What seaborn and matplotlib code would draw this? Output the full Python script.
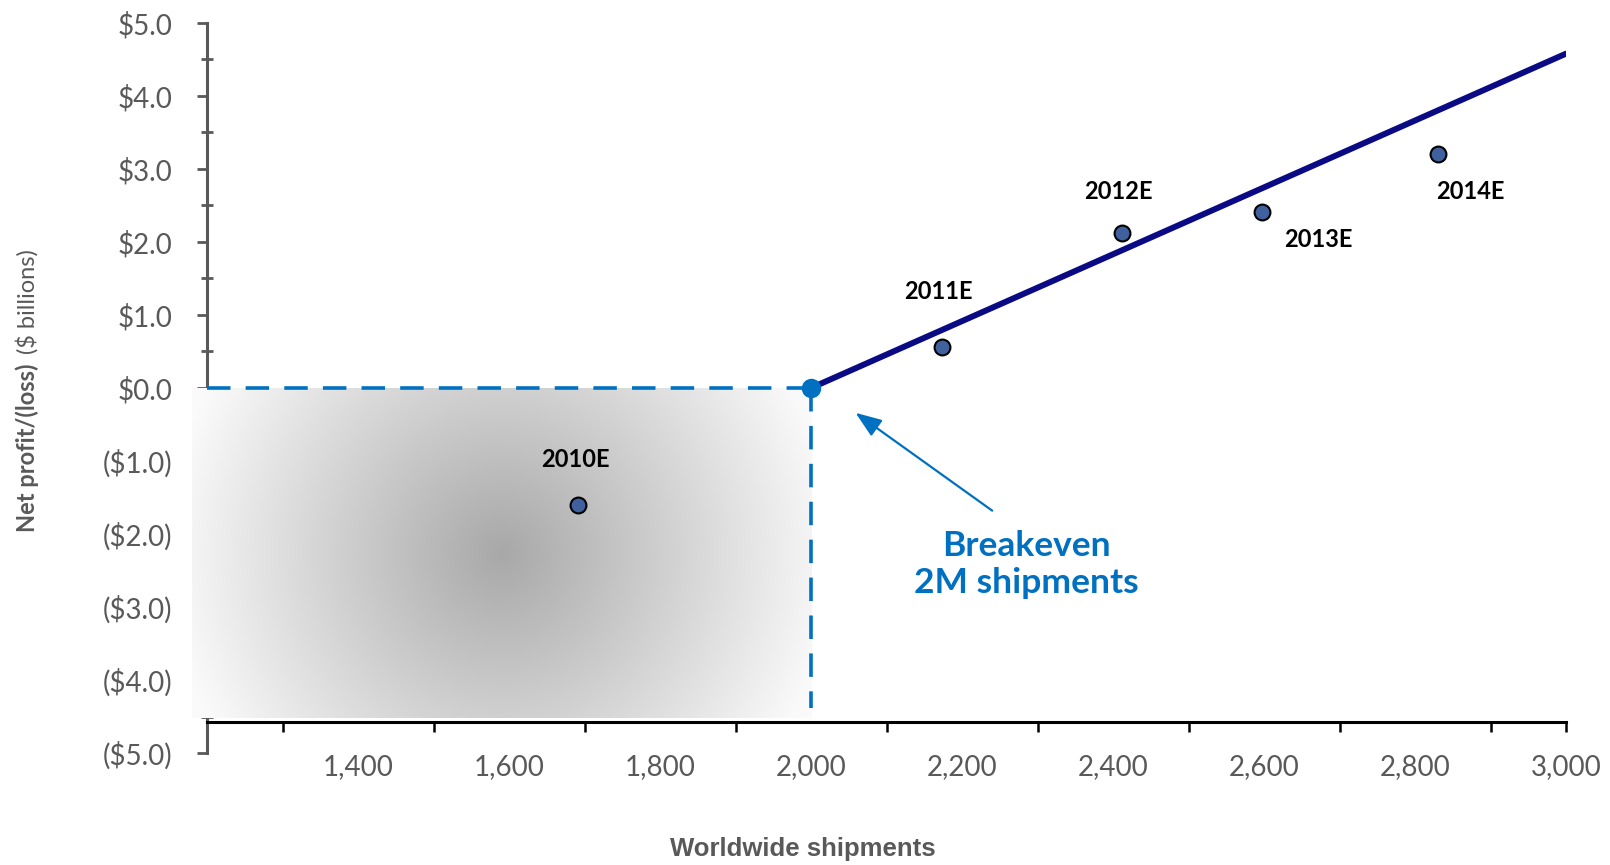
import numpy as np
import matplotlib
matplotlib.use("Agg")
import matplotlib.pyplot as plt
import seaborn as sns

# data
years = ['2010E', '2011E', '2012E', '2013E', '2014E']
shipments = [1692, 2174, 2412, 2598, 2831]
profit = [-1.60, 0.56, 2.13, 2.41, 3.20]

trend_x = [2000, 3000]
trend_y = [0.0, 4.58]

breakeven_x = 2000
breakeven_y = 0.0

y_ticks = [-5, -4, -3, -2, -1, 0, 1, 2, 3, 4, 5]
x_label_ticks = [1400, 1600, 1800, 2000, 2200, 2400, 2600, 2800, 3000]
x_mark_ticks = [1300, 1500, 1700, 1900, 2100, 2300, 2500, 2700, 2900, 3000]

sns.set_theme(style='white')
plt.rcParams['font.family'] = ['Lato', 'DejaVu Sans']

GRAY = '#595959'
BLUE = '#0070C0'

fig = plt.figure(figsize=(16.1, 8.65), dpi=100)
ax = fig.add_axes([207/1610, 1 - 753/865, (1566-207)/1610, (753-23)/865])
ax.set_xlim(1200, 3000)
ax.set_ylim(-5, 5)

# shaded loss area (radial gradient)
x0, x1, y0, y1 = 1180, 2000, -4.52, 0.0
w_px, h_px = (x1 - x0) * 0.7553, (y1 - y0) * 72.4
gx, gy = np.meshgrid(np.linspace(0, w_px, 400), np.linspace(0, h_px, 200))
d = np.hypot(gx - w_px / 2, gy - h_px / 2)
g = np.clip(168 + 0.245 * d, 0, 250) / 255
img = np.dstack([g, g, g])
ax.imshow(img, extent=[x0, x1, y0, y1], aspect='auto', zorder=3,
          clip_on=False, interpolation='bilinear')

# breakeven guides
ax.plot([1200, breakeven_x], [breakeven_y, breakeven_y], color=BLUE, lw=2.6,
        dashes=(6.5, 4.2), zorder=4)
ax.plot([breakeven_x, breakeven_x], [breakeven_y, -4.39], color=BLUE, lw=2.6,
        dashes=(6.5, 4.0), zorder=4)

sns.lineplot(x=trend_x, y=trend_y, color='#0A0A85', lw=4.3, ax=ax, zorder=5)
sns.scatterplot(x=shipments, y=profit, s=130, color='#41619E', edgecolor='black',
                linewidth=1.5, ax=ax, zorder=6)
ax.plot(breakeven_x, breakeven_y, 'o', color=BLUE, ms=13, zorder=7, clip_on=False)

offsets = [(-3, 45), (-4, 56), (-4, 41), (56, -27), (32, -37)]
for yr, xv, yv, off in zip(years, shipments, profit, offsets):
    ax.annotate(yr, (xv, yv), xytext=off, textcoords='offset pixels',
                ha='center', va='center', fontsize=17, fontweight='bold',
                color='black', zorder=8)

ax.annotate('', xy=(2059, -0.34), xytext=(2240, -1.68),
            arrowprops=dict(arrowstyle='-|>,head_length=0.8,head_width=0.3',
                            color=BLUE, lw=1.6, mutation_scale=20,
                            shrinkA=0, shrinkB=0), zorder=8)
ax.text(2285, -2.42, 'Breakeven\n2M shipments', ha='center', va='center',
        fontsize=25.5, fontweight='bold', color=BLUE, linespacing=1.2)

# axes styling
for s in ['top', 'right']:
    ax.spines[s].set_visible(False)
ax.spines['left'].set_color(GRAY)
ax.spines['left'].set_linewidth(2.2)
ax.spines['bottom'].set_position(('data', -4.57))
ax.spines['bottom'].set_color('black')
ax.spines['bottom'].set_linewidth(2.2)

ax.set_yticks(y_ticks)
ax.set_yticklabels([rf'\${v:.1f}' if v >= 0 else rf'(\${-v:.1f})' for v in y_ticks])
ax.set_yticks(np.arange(-4.5, 5, 1.0), minor=True)
ax.tick_params(axis='y', which='major', direction='out', length=7, width=2,
               color=GRAY, labelsize=20, labelcolor=GRAY, pad=18, left=True)
ax.tick_params(axis='y', which='minor', direction='inout', length=8, width=2,
               color=GRAY, left=True)

ax.xaxis.remove_overlapping_locs = False
ax.set_xticks(x_label_ticks)
ax.set_xticklabels([f'{v:,}' for v in x_label_ticks])
ax.set_xticks(x_mark_ticks, minor=True)
ax.tick_params(axis='x', which='major', length=0, labelsize=20, labelcolor=GRAY,
               pad=23, bottom=True)
ax.tick_params(axis='x', which='minor', direction='out', length=7, width=1.8,
               color='black', bottom=True)
ax.grid(False)

# axis titles
fig.text(803/1610, 1 - 849/865, 'Worldwide shipments', ha='center', va='center',
         fontsize=18.5, fontweight='bold', color=GRAY, family='Liberation Sans')
fig.text(27/1610, 1 - 448/865, 'Net profit/(loss)', rotation=90, ha='center',
         va='center', fontsize=17, fontweight='bold', color=GRAY)
fig.text(27/1610, 1 - 302/865, r'(\$ billions)', rotation=90, ha='center',
         va='center', fontsize=17, color=GRAY)

plt.savefig('out.png', dpi=100)
